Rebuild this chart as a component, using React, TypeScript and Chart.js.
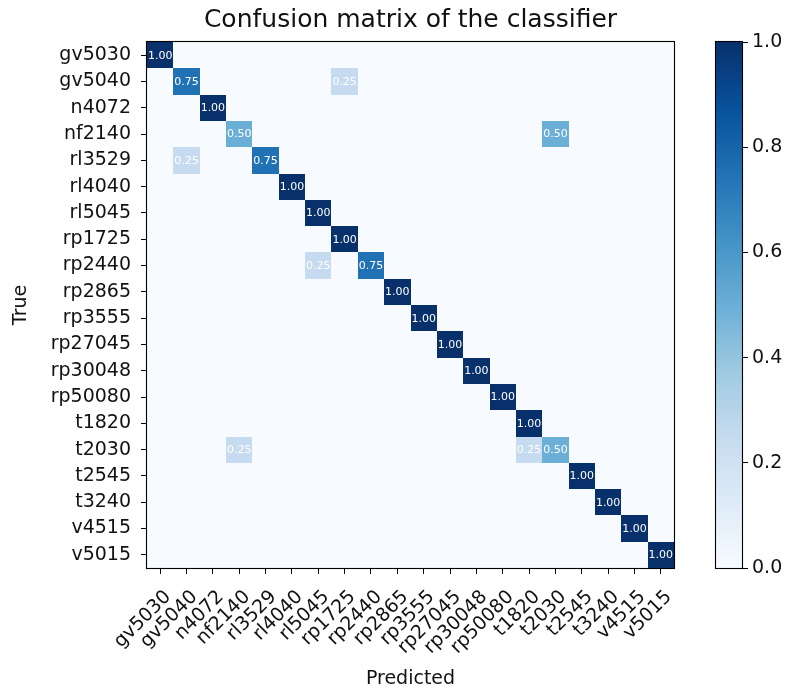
import { useEffect, useRef } from "react";
import { Chart, registerables } from "chart.js";

Chart.register(...registerables);

// Class names, used for both the true (rows) and predicted (columns) axes
const classes = [
  "gv5030", "gv5040", "n4072", "nf2140", "rl3529", "rl4040", "rl5045",
  "rp1725", "rp2440", "rp2865", "rp3555", "rp27045", "rp30048", "rp50080",
  "t1820", "t2030", "t2545", "t3240", "v4515", "v5015",
];

// Row-normalised confusion matrix: rows = true class, columns = predicted class
const matrix: number[][] = [
  [1.0, 0, 0, 0, 0, 0, 0, 0, 0, 0, 0, 0, 0, 0, 0, 0, 0, 0, 0, 0],
  [0, 0.75, 0, 0, 0, 0, 0, 0.25, 0, 0, 0, 0, 0, 0, 0, 0, 0, 0, 0, 0],
  [0, 0, 1.0, 0, 0, 0, 0, 0, 0, 0, 0, 0, 0, 0, 0, 0, 0, 0, 0, 0],
  [0, 0, 0, 0.5, 0, 0, 0, 0, 0, 0, 0, 0, 0, 0, 0, 0.5, 0, 0, 0, 0],
  [0, 0.25, 0, 0, 0.75, 0, 0, 0, 0, 0, 0, 0, 0, 0, 0, 0, 0, 0, 0, 0],
  [0, 0, 0, 0, 0, 1.0, 0, 0, 0, 0, 0, 0, 0, 0, 0, 0, 0, 0, 0, 0],
  [0, 0, 0, 0, 0, 0, 1.0, 0, 0, 0, 0, 0, 0, 0, 0, 0, 0, 0, 0, 0],
  [0, 0, 0, 0, 0, 0, 0, 1.0, 0, 0, 0, 0, 0, 0, 0, 0, 0, 0, 0, 0],
  [0, 0, 0, 0, 0, 0, 0.25, 0, 0.75, 0, 0, 0, 0, 0, 0, 0, 0, 0, 0, 0],
  [0, 0, 0, 0, 0, 0, 0, 0, 0, 1.0, 0, 0, 0, 0, 0, 0, 0, 0, 0, 0],
  [0, 0, 0, 0, 0, 0, 0, 0, 0, 0, 1.0, 0, 0, 0, 0, 0, 0, 0, 0, 0],
  [0, 0, 0, 0, 0, 0, 0, 0, 0, 0, 0, 1.0, 0, 0, 0, 0, 0, 0, 0, 0],
  [0, 0, 0, 0, 0, 0, 0, 0, 0, 0, 0, 0, 1.0, 0, 0, 0, 0, 0, 0, 0],
  [0, 0, 0, 0, 0, 0, 0, 0, 0, 0, 0, 0, 0, 1.0, 0, 0, 0, 0, 0, 0],
  [0, 0, 0, 0, 0, 0, 0, 0, 0, 0, 0, 0, 0, 0, 1.0, 0, 0, 0, 0, 0],
  [0, 0, 0, 0.25, 0, 0, 0, 0, 0, 0, 0, 0, 0, 0, 0.25, 0.5, 0, 0, 0, 0],
  [0, 0, 0, 0, 0, 0, 0, 0, 0, 0, 0, 0, 0, 0, 0, 0, 1.0, 0, 0, 0],
  [0, 0, 0, 0, 0, 0, 0, 0, 0, 0, 0, 0, 0, 0, 0, 0, 0, 1.0, 0, 0],
  [0, 0, 0, 0, 0, 0, 0, 0, 0, 0, 0, 0, 0, 0, 0, 0, 0, 0, 1.0, 0],
  [0, 0, 0, 0, 0, 0, 0, 0, 0, 0, 0, 0, 0, 0, 0, 0, 0, 0, 0, 1.0],
];

const colorbarTicks = [0, 0.2, 0.4, 0.6, 0.8, 1.0];

// "Blues" sequential colour map, evenly spaced stops from 0 to 1
const BLUES = [
  "#f7fbff", "#deebf7", "#c6dbef", "#9ecae1", "#6baed6",
  "#4292c6", "#2171b5", "#08519c", "#08306b",
];

const FONT = "'DejaVu Sans', sans-serif";
const TEXT = "#111";

function hexToRgb(h: string) {
  return [1, 3, 5].map((i) => parseInt(h.slice(i, i + 2), 16));
}

function blues(v: number) {
  const t = Math.max(0, Math.min(1, v)) * (BLUES.length - 1);
  const i = Math.min(Math.floor(t), BLUES.length - 2);
  const f = t - i;
  const a = hexToRgb(BLUES[i]);
  const b = hexToRgb(BLUES[i + 1]);
  const c = a.map((av, k) => Math.round(av + (b[k] - av) * f));
  return `rgb(${c[0]},${c[1]},${c[2]})`;
}

type Cell = { x: number; y: number; v: number };

const cells: Cell[] = [];
matrix.forEach((row, r) => row.forEach((v, c) => cells.push({ x: c, y: r, v })));

function strokeFrame(chart: any) {
  const { ctx, chartArea } = chart;
  ctx.save();
  ctx.strokeStyle = "#000";
  ctx.lineWidth = 1.1;
  ctx.strokeRect(chartArea.left - 0.5, chartArea.top - 0.5, chartArea.width + 1, chartArea.height + 1);
  ctx.restore();
}

// Paints every cell of the matrix and its value label, then the frame
const matrixPlugin = {
  id: "matrixCells",
  beforeDatasetsDraw(chart: any) {
    const { ctx, chartArea } = chart;
    const xs = chart.scales.x;
    const ys = chart.scales.y;
    const data = chart.data.datasets[0].data as Cell[];
    ctx.save();
    ctx.beginPath();
    ctx.rect(chartArea.left, chartArea.top, chartArea.width, chartArea.height);
    ctx.clip();
    for (const p of data) {
      const x0 = Math.round(xs.getPixelForValue(p.x - 0.5));
      const x1 = Math.round(xs.getPixelForValue(p.x + 0.5));
      const y0 = Math.round(ys.getPixelForValue(p.y - 0.5));
      const y1 = Math.round(ys.getPixelForValue(p.y + 0.5));
      ctx.fillStyle = blues(p.v);
      ctx.fillRect(Math.min(x0, x1), Math.min(y0, y1), Math.abs(x1 - x0), Math.abs(y1 - y0));
    }
    ctx.restore();
    ctx.save();
    ctx.font = `11px ${FONT}`;
    ctx.textAlign = "center";
    ctx.textBaseline = "middle";
    ctx.fillStyle = "#fff";
    for (const p of data) {
      if (p.v <= 0) continue;
      ctx.fillText(p.v.toFixed(2), xs.getPixelForValue(p.x), ys.getPixelForValue(p.y) + 0.5);
    }
    ctx.restore();
  },
  afterDraw: strokeFrame,
};

// Outline around the colour bar
const colorbarFrame = {
  id: "colorbarFrame",
  afterDraw: strokeFrame,
};

function categoryTicks(axis: any) {
  axis.ticks = classes.map((_, i) => ({ value: i }));
}

export default function App() {
  const mainRef = useRef<HTMLCanvasElement>(null);
  const barRef = useRef<HTMLCanvasElement>(null);

  useEffect(() => {
    const tickFont = { family: FONT, size: 19 };

    const main = new Chart(mainRef.current!, {
      type: "scatter",
      data: {
        datasets: [{ data: cells as any, pointRadius: 0, pointHoverRadius: 0 }],
      },
      options: {
        responsive: false,
        animation: false,
        devicePixelRatio: 1,
        events: [],
        layout: { padding: { left: 0, right: 118, top: 0, bottom: 0 } },
        plugins: {
          legend: { display: false },
          tooltip: { enabled: false },
          title: {
            display: true,
            text: "Confusion matrix of the classifier",
            fullSize: false,
            color: TEXT,
            font: { family: FONT, size: 25, weight: "normal" },
            padding: { top: 5, bottom: 7 },
          },
        },
        scales: {
          x: {
            type: "linear",
            min: -0.5,
            max: classes.length - 0.5,
            afterBuildTicks: categoryTicks,
            afterFit: (s: any) => {
              s.height = 122;
            },
            ticks: {
              autoSkip: false,
              minRotation: 45,
              maxRotation: 45,
              padding: 12,
              labelOffset: 8,
              color: TEXT,
              font: tickFont,
              callback: (v: any) => classes[v as number] ?? "",
            },
            grid: { drawOnChartArea: false, drawTicks: true, tickLength: 6, color: "#000" },
            border: { display: false },
            title: {
              display: true,
              text: "Predicted",
              color: TEXT,
              font: { family: FONT, size: 19 },
              padding: { top: 2, bottom: 0 },
            },
          },
          y: {
            type: "linear",
            reverse: true,
            min: -0.5,
            max: classes.length - 0.5,
            afterBuildTicks: categoryTicks,
            afterFit: (s: any) => {
              s.width = 147;
            },
            ticks: {
              autoSkip: false,
              padding: 10,
              color: TEXT,
              font: tickFont,
              callback: (v: any) => classes[v as number] ?? "",
            },
            grid: { drawOnChartArea: false, drawTicks: true, tickLength: 6, color: "#000" },
            border: { display: false },
            title: {
              display: true,
              text: "True",
              color: TEXT,
              font: { family: FONT, size: 19 },
              padding: { top: 10, bottom: 0 },
            },
          },
        },
      },
      plugins: [matrixPlugin],
    });

    const bar = new Chart(barRef.current!, {
      type: "bar",
      data: {
        labels: [""],
        datasets: [
          {
            data: [[0, 1]] as any,
            backgroundColor: (ctx: any) => {
              const chart = ctx.chart;
              const ys = chart.scales.y;
              if (!chart.chartArea || !ys) return BLUES[4];
              const g = chart.ctx.createLinearGradient(0, ys.getPixelForValue(0), 0, ys.getPixelForValue(1));
              BLUES.forEach((c, i) => g.addColorStop(i / (BLUES.length - 1), c));
              return g;
            },
            borderWidth: 0,
            barPercentage: 1,
            categoryPercentage: 1,
          },
        ],
      },
      options: {
        responsive: false,
        animation: false,
        devicePixelRatio: 1,
        events: [],
        layout: { padding: { left: 16, right: 0, top: 42, bottom: 122 } },
        plugins: { legend: { display: false }, tooltip: { enabled: false } },
        scales: {
          x: { display: false },
          y: {
            position: "right",
            min: 0,
            max: 1,
            afterBuildTicks: (axis: any) => {
              axis.ticks = colorbarTicks.map((v) => ({ value: v }));
            },
            afterFit: (s: any) => {
              s.width = 50;
            },
            ticks: {
              padding: 4,
              color: TEXT,
              font: tickFont,
              callback: (v: any) => Number(v).toFixed(1),
            },
            grid: { drawOnChartArea: false, drawTicks: true, tickLength: 6, color: "#000" },
            border: { display: false },
          },
        },
      },
      plugins: [colorbarFrame],
    });

    return () => {
      main.destroy();
      bar.destroy();
    };
  }, []);

  return (
    <div style={{ position: "fixed", left: 0, top: 0, width: 792, height: 690, background: "#fff" }}>
      <canvas ref={mainRef} width={792} height={690} style={{ position: "absolute", left: 0, top: 0, display: "block" }} />
      <canvas ref={barRef} width={92} height={690} style={{ position: "absolute", left: 700, top: 0, display: "block" }} />
    </div>
  );
}
